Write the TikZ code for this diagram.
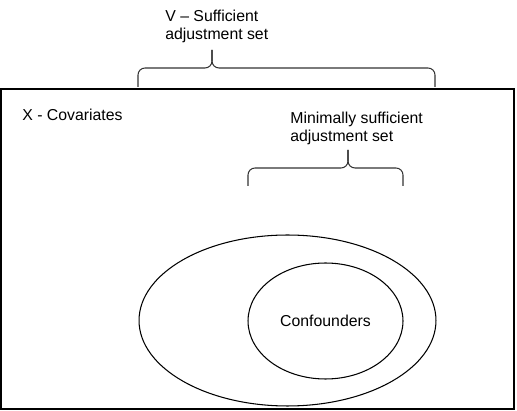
\documentclass[tikz,border=0pt]{standalone}
\usepackage{fontspec}
\setmainfont{Liberation Sans}
\usetikzlibrary{positioning,shapes.geometric}
\tikzset{
  setlabel/.style={font=\fontsize{9}{10.3}\selectfont, align=left, inner sep=0pt},
  setring/.style={draw=black, ellipse, line width=0.6pt, inner sep=0pt},
  bracepath/.style={draw=black!80, line width=0.6pt, rounded corners=4pt},
}
\begin{document}
\begin{tikzpicture}[x=0.02cm, y=-0.02cm]
  \useasboundingbox (0,0) rectangle (517,411);

  % Covariate frame
  \draw[line width=0.7pt] (1,89) rectangle (514,409);
  \node[setlabel, anchor=west] (covlab) at (22,115) {X - Covariates};

  % Sufficient adjustment set
  \node[setlabel, anchor=west] (suflab) at (165,26) {V -- Sufficient\\adjustment set};
  \coordinate (suftip) at (212,50);
  \draw[bracepath] (138,87) -- (138,68) -- (212,68) -- (suftip);
  \draw[bracepath] (435,87) -- (435,68) -- (212,68) -- (suftip);

  % Minimally sufficient set
  \node[setlabel, anchor=west] (minlab) at (290,128.5) {Minimally sufficient\\adjustment set};
  \coordinate (mintip) at (348,150);
  \draw[bracepath] (248,186) -- (248,168) -- (348,168) -- (mintip);
  \draw[bracepath] (403,186) -- (403,168) -- (348,168) -- (mintip);

  % Nested sets
  \node[setring, minimum width=5.94cm, minimum height=3.42cm] (minset) at (287.5,320.5) {};
  \node[setring, setlabel, minimum width=3.1cm, minimum height=2.32cm] (confset) at (325.5,321) {Confounders};
\end{tikzpicture}
\end{document}
